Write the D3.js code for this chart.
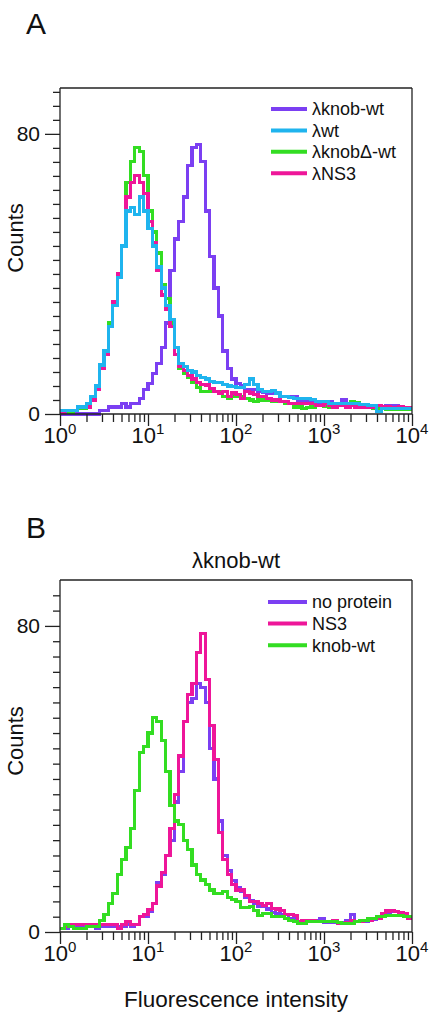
<!DOCTYPE html>
<html>
<head>
<meta charset="utf-8">
<script src="https://cdn.jsdelivr.net/npm/d3@7"></script>
<style>
  html, body { margin: 0; padding: 0; background: #fff; }
  svg { display: block; font-family: "Liberation Sans", Arial, sans-serif; }
</style>
</head>
<body>
<svg id="chart" width="435" height="1018"></svg>
<script>
// ---------- channel geometry (histogram bins on log axis) ----------
const binsPerDecade = 20;          // 80 bins over 10^0 .. 10^4
const decades = [0, 1, 2, 3, 4];

// ---------- Panel A: counts per bin ----------
const seriesA_names = ["λknob-wt", "λwt", "λknobΔ-wt", "λNS3"];
const seriesA_colors = ["#7b3ff2", "#1fb4ee", "#33dd22", "#ee1699"];

const knobWtA = [0,0,0,0,0,0,0,0,0,1, 1,2,2,2,3,2,3,3,4.5,7, 8.7,11.6,14.4,19,26,41,50,55,62,71, 76,77,72,58,45,36,28,18,13,10, 8.7,8,7,7,7,6.4,6.2,6,6,6, 5,5,5,5,4,3.5,3.5,3.5,3,3, 3,3.5,3,3,4,3,2.5,2.5,2.5,2.5, 2.5,2,2,2,2.5,2.5,2.5,2,1.5,1.5];
const wtA     = [1,1,1,1,2,2,3,5,8,14, 18,25,31,39,48,58,59,57,62,58, 53,48,42,36,31,27,19,14.5,13.5,12.5, 12,11,10.5,10,9.3,9,9,8.5,8,7.8, 7.5,7.5,8.5,10,8.5,7,6.5,6.5,6.8,6, 5,5,4.8,4.5,4.5,4.5,4.5,4.2,3.5,3.5, 3.5,3,3,3,3,3,3,3,2.8,2.8, 2.5,2.5,0.8,1.5,1.5,1.5,1.5,1.5,1.5,1.5];
const knobDeltaA = [0.5,1,0.5,1,1.5,1.5,2,4,8,14, 17,26,31,40,48,66,72,76,75,68, 58,52,46,37,33,26,19,13,11.5,10.5, 9,7.5,6.5,6.4,6.4,6.4,6.4,5,4.5,5, 5,5,4.5,4,3.5,4,4,4,3.5,3.5, 3.5,3,3,2,2,1.6,1.8,2,2.5,2.5, 2.3,2,2.6,2.6,2.6,2.6,3.5,3.2,2.5,2, 1.8,1.6,1.5,1.5,1.4,1.3,1.3,1.2,1.2,1.2];
const ns3A    = [0.5,1,1,1,2,2,2,4,7,13, 17,25,32,40,48,62,66,68,66,63, 55,49,41,34,30,25,17,13.5,12.5,11, 10,9,8.5,8.3,7.3,6.5,6,6.5,5,6, 5.5,4.5,6.4,6,5.5,5,5,4.5,4,4, 3.5,3.5,3,3,3,3,3,3,2.5,2.5, 3,2.5,2,2.5,2.5,2,2.5,2,2,2, 2,2,2.5,2,2,1.8,1.8,2,1.8,1.8];

// ---------- Panel B: counts per bin ----------
const titleB = "λknob-wt";
const seriesB_names = ["no protein", "NS3", "knob-wt"];
const seriesB_colors = ["#7b3ff2", "#ee1699", "#33dd22"];

const noProteinB = [1,1,1.5,1.5,1.5,1.5,1.5,1.5,1,1.5, 1.5,1.5,1.5,1.5,1.5,2,1.5,2,4,4.2, 5.5,7.5,12.8,15,20,24,34,42,55,60, 61,65,64,60,48,40,29,20,16,13.5, 11.5,10.5,9,8.3,7.5,6.6,6.6,6,5,4.8, 4.6,4.6,3.5,3.5,2.7,2.7,2.7,2.7,3,3.5, 2.5,2.5,2.5,2.5,2.5,3,4.6,2.7,2.7,2.7, 3.3,3.3,3.5,4.4,5,5.3,5.3,5,4.6,4];
const ns3B = [1,1.5,1.9,1.9,1.9,1.9,1.9,1.9,1.9,1.9, 1.9,1.9,1.9,1,1.9,2.7,1.9,2,4,4.5, 5.8,7.5,12,15.5,20,27,36,46,55,62, 65,73,78,66,54,45,26,19,15,12.5, 11,11,9.5,8,7.9,7.5,7,7.5,6.2,6, 5.7,4.6,4.6,4.4,2.7,3,3,3,2.7,2.7, 2.7,2.7,3,2.2,2.2,2.5,3,2.7,2.7,3, 3,3.5,3.5,4.7,5.5,5.7,5.3,5,4.8,3.5];
const knobWtB = [1,2,1.5,1,1,1,1.5,1.5,1.5,3, 4.5,7.5,10,15,19,22,27,37,47,48.5, 52,56,55,50,42,33,29,28,24,21.5, 17.5,15,13.6,12.5,11,10,10,10.5,9,8.5, 8,6.5,6.5,6.6,5.7,4.4,4.9,4.9,4,4, 4,3.5,3.1,2.7,2.2,2.2,2.7,2.7,2.7,2.7, 2.7,2.7,2.7,2.5,2.2,2.2,2.2,2.7,3,3.1, 3.5,3.5,4,4,4.4,4.4,4.4,4.4,4,4];

// ---------- axis tick values ----------
const yMajorTicks = [0, 80];
const yMinorStep = 4;
const xLabel = "Fluorescence intensity";
const yLabel = "Counts";

// ---------- drawing ----------
const svg = d3.select("#chart");
const plotLeft = 60, plotRight = 412;

const x = d3.scaleLog().domain([1, 1e4]).range([plotLeft, plotRight]);

function binEdges(n) {
  const e = [];
  for (let i = 0; i <= n; i++) e.push(Math.pow(10, i / binsPerDecade));
  return e;
}

function drawPanel(cfg) {
  const y = d3.scaleLinear().domain([0, cfg.yMax]).range([cfg.bottom, cfg.top]);
  const g = svg.append("g");

  const line = d3.line()
    .x(d => x(d.x))
    .y(d => y(d.y))
    .curve(d3.curveStepAfter);

  cfg.drawOrder.forEach(k => {
    const vals = cfg.series[k];
    const edges = binEdges(vals.length);
    const pts = vals.map((v, i) => ({ x: edges[i], y: v }));
    pts.push({ x: edges[vals.length], y: vals[vals.length - 1] });
    g.append("path")
      .attr("d", line(pts))
      .attr("fill", "none")
      .attr("stroke", cfg.colors[k])
      .attr("stroke-width", 3.2)
      .attr("shape-rendering", "crispEdges");
  });

  // frame (top & right)
  g.append("line").attr("x1", plotLeft).attr("x2", plotRight).attr("y1", cfg.top).attr("y2", cfg.top)
    .attr("stroke", "#222").attr("stroke-width", 1.3);
  g.append("line").attr("x1", plotRight).attr("x2", plotRight).attr("y1", cfg.top).attr("y2", cfg.bottom)
    .attr("stroke", "#222").attr("stroke-width", 1.3);

  // y axis
  const minor = d3.range(0, cfg.yMax, yMinorStep).filter(v => !yMajorTicks.includes(v));
  const gyMinor = g.append("g").attr("transform", `translate(${plotLeft},0)`)
    .call(d3.axisLeft(y).tickValues(minor).tickSize(7).tickFormat(""));
  gyMinor.select(".domain").remove();
  const gy = g.append("g").attr("transform", `translate(${plotLeft},0)`)
    .call(d3.axisLeft(y).tickValues(yMajorTicks).tickSize(15).tickSizeOuter(0).tickPadding(5));
  gy.select(".domain").attr("stroke", "#222").attr("stroke-width", 1.3)
    .attr("d", `M0,${cfg.top}V${cfg.bottom}`);
  gy.selectAll("text").attr("font-size", 21).attr("font-family", "Liberation Sans, Arial, sans-serif").attr("fill", "#111");

  // x axis
  const minorX = [];
  for (let d = 0; d < 4; d++) for (let m = 2; m <= 9; m++) minorX.push(m * Math.pow(10, d));
  const gxMinor = g.append("g").attr("transform", `translate(0,${cfg.bottom})`)
    .call(d3.axisBottom(x).tickValues(minorX).tickSize(8).tickFormat(""));
  gxMinor.select(".domain").remove();
  const gx = g.append("g").attr("transform", `translate(0,${cfg.bottom})`)
    .call(d3.axisBottom(x).tickValues(decades.map(d => Math.pow(10, d))).tickSize(12).tickSizeOuter(0).tickFormat(""));
  gx.select(".domain").attr("stroke", "#222").attr("stroke-width", 1.3)
    .attr("d", `M${plotLeft},0H${plotRight}`);
  g.selectAll(".tick line").attr("stroke", "#222").attr("stroke-width", 1.3);

  decades.forEach(d => {
    const t = g.append("text")
      .attr("x", x(Math.pow(10, d)))
      .attr("y", cfg.bottom + 29)
      .attr("text-anchor", "middle")
      .attr("font-size", 22)
      .attr("fill", "#111")
      .text("10");
    t.append("tspan").attr("dy", -9).attr("font-size", 15).text(String(d));
  });

  // y label
  g.append("text")
    .attr("transform", `translate(${23},${cfg.yLabelY}) rotate(-90)`)
    .attr("text-anchor", "middle")
    .attr("font-size", 22)
    .attr("fill", "#111")
    .text(yLabel);

  // legend
  cfg.legendOrder.forEach((k, i) => {
    const ly = cfg.legendY + i * cfg.legendStep;
    g.append("line")
      .attr("x1", cfg.legendX1).attr("x2", cfg.legendX2)
      .attr("y1", ly).attr("y2", ly)
      .attr("stroke", cfg.colors[k]).attr("stroke-width", 4);
    g.append("text")
      .attr("x", cfg.legendX2 + 5).attr("y", ly)
      .attr("dy", "0.35em")
      .attr("font-size", 18)
      .attr("fill", "#111")
      .text(cfg.names[k]);
  });

  // panel letter
  svg.append("text")
    .attr("x", 26).attr("y", cfg.letterY)
    .attr("font-size", 30)
    .attr("fill", "#111")
    .text(cfg.letter);
}

drawPanel({
  letter: "A", letterY: 34,
  top: 88, bottom: 414, yMax: 93.1,
  series: [knobWtA, wtA, knobDeltaA, ns3A],
  names: seriesA_names, colors: seriesA_colors,
  drawOrder: [0, 2, 3, 1],
  legendOrder: [0, 1, 2, 3],
  legendX1: 271, legendX2: 307, legendY: 109, legendStep: 21.4,
  yLabelY: 238
});

drawPanel({
  letter: "B", letterY: 538,
  top: 580, bottom: 932, yMax: 92,
  series: [noProteinB, ns3B, knobWtB],
  names: seriesB_names, colors: seriesB_colors,
  drawOrder: [0, 1, 2],
  legendOrder: [0, 1, 2],
  legendX1: 268, legendX2: 307, legendY: 602, legendStep: 21.6,
  yLabelY: 741
});

// panel B title
svg.append("text")
  .attr("x", (plotLeft + plotRight) / 2).attr("y", 568)
  .attr("text-anchor", "middle")
  .attr("font-size", 22)
  .attr("fill", "#111")
  .text(titleB);

// x axis label
svg.append("text")
  .attr("x", (plotLeft + plotRight) / 2).attr("y", 1007)
  .attr("text-anchor", "middle")
  .attr("font-size", 22.5)
  .attr("fill", "#111")
  .text(xLabel);
</script>
</body>
</html>
